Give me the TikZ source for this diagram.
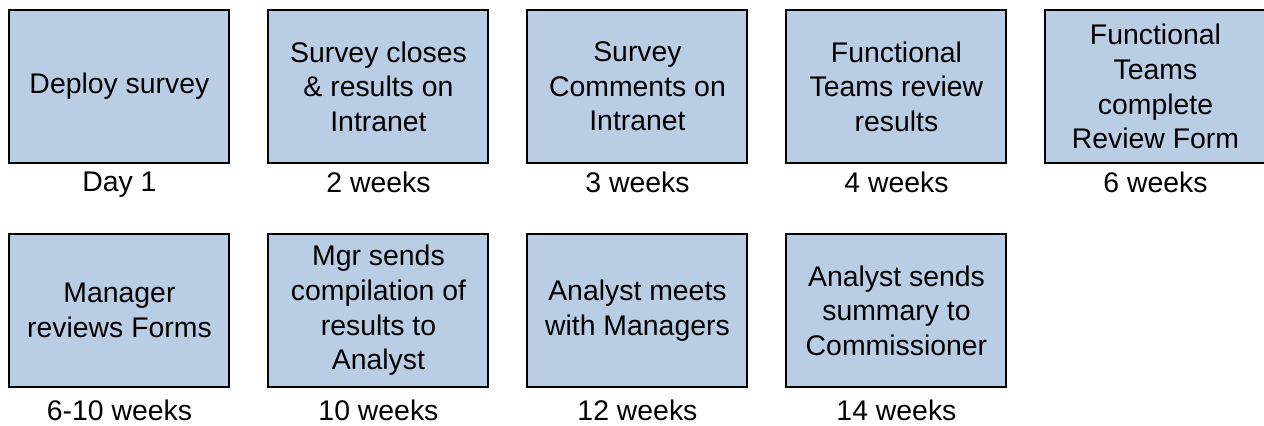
\documentclass[tikz,border=0pt]{standalone}
\usepackage{fontspec}
\setmainfont{Liberation Sans}
\usepackage{tikz}
\usetikzlibrary{positioning}
\definecolor{boxblue}{HTML}{B9CDE5}

\begin{document}
\begin{tikzpicture}[
    node distance=53.25pt and 29.25pt,
    task/.style={rectangle, draw=black, line width=1.5pt, fill=boxblue, minimum width=165pt, minimum height=114.75pt, align=center, inner sep=2pt, outer sep=0pt, font=\fontsize{21.3}{26}\selectfont},
    when/.style={inner sep=0pt, outer sep=0pt, font=\fontsize{21.3}{26}\selectfont},
]
    \useasboundingbox (0,0) rectangle (948pt,-318.75pt);
    % first row of steps
    \node[task] (deploy) at (89.6pt,-64.9pt) {Deploy survey};
    \node[task, right=of deploy] (closes) {Survey closes\\\& results on\\Intranet};
    \node[task, right=of closes] (comments) {Survey\\Comments on\\Intranet};
    \node[task, right=of comments] (teams) {Functional\\Teams review\\results};
    \node[task, right=of teams] (form) {Functional\\Teams\\complete\\Review Form};
    % second row of steps
    \node[task, below=of deploy] (mgrrev) {Manager\\reviews Forms};
    \node[task, right=of mgrrev] (mgrsend) {Mgr sends\\compilation of\\results to\\Analyst};
    \node[task, right=of mgrsend] (meets) {Analyst meets\\with Managers};
    \node[task, right=of meets] (summary) {Analyst sends\\summary to\\Commissioner};
    % timing under each step
    \node[when, below=6.75pt of deploy] (t1) {Day 1};
    \node[when, below=6.75pt of closes] (t2) {2 weeks};
    \node[when, below=6.75pt of comments] (t3) {3 weeks};
    \node[when, below=6.75pt of teams] (t4) {4 weeks};
    \node[when, below=6.75pt of form] (t5) {6 weeks};
    \node[when, below=9.75pt of mgrrev] (t6) {6-10 weeks};
    \node[when, below=9.75pt of mgrsend] (t7) {10 weeks};
    \node[when, below=9.75pt of meets] (t8) {12 weeks};
    \node[when, below=9.75pt of summary] (t9) {14 weeks};
\end{tikzpicture}
\end{document}
